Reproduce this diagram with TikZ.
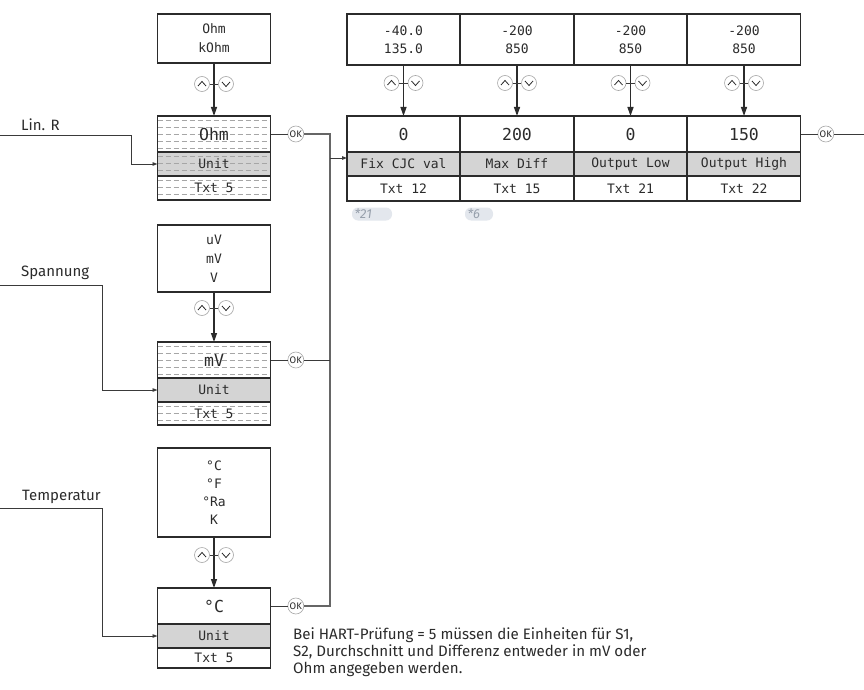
\documentclass[tikz,border=0pt]{standalone}
\usepackage{fontspec}
\setmainfont{Fira Sans}
\newfontfamily\lcdfont{DejaVu Sans Mono}
\usetikzlibrary{positioning,arrows.meta}

\definecolor{frame}{HTML}{2B2B2B}
\definecolor{unitgrey}{HTML}{D4D4D4}
\definecolor{hatch}{HTML}{A6A6A6}
\definecolor{pillbg}{HTML}{E3E7ED}
\definecolor{pilltxt}{HTML}{97A0AC}
\definecolor{wire}{HTML}{3A3A3A}

\tikzset{
  disp/.style={draw=frame, line width=1.4pt, fill=white, minimum width=113pt,
    inner sep=0pt, outer sep=0pt, align=center, text=frame},
  optbox/.style={disp, font=\lcdfont\fontsize{13}{19}\selectfont},
  valrow/.style={disp, minimum height=36pt, font=\lcdfont\fontsize{16.5}{17}\selectfont},
  unitrow/.style={disp, fill=unitgrey, minimum height=24pt, font=\lcdfont\fontsize{13}{14}\selectfont},
  txtrow/.style={disp, minimum height=24pt, font=\lcdfont\fontsize{13}{14}\selectfont},
  hatched/.style={path picture={
    \foreach \k in {4,11,...,46}
      \draw[hatch, line width=0.6pt, dash pattern=on 5pt off 3pt]
        ([yshift=-\k pt]path picture bounding box.north west) --
        ([yshift=-\k pt]path picture bounding box.north east);}},
  keyup/.style={circle, draw=gray!70, fill=white, minimum size=15pt, inner sep=0pt,
    line width=0.6pt, path picture={
      \draw[frame, line width=0.8pt]
        ([xshift=-4pt,yshift=-2pt]path picture bounding box.center) --
        ([yshift=2.5pt]path picture bounding box.center) --
        ([xshift=4pt,yshift=-2pt]path picture bounding box.center);}},
  keydown/.style={circle, draw=gray!70, fill=white, minimum size=15pt, inner sep=0pt,
    line width=0.6pt, path picture={
      \draw[frame, line width=0.8pt]
        ([xshift=-4pt,yshift=2pt]path picture bounding box.center) --
        ([yshift=-2.5pt]path picture bounding box.center) --
        ([xshift=4pt,yshift=2pt]path picture bounding box.center);}},
  okkey/.style={circle, draw=gray!70, fill=white, minimum size=16pt, inner sep=0pt,
    line width=0.6pt, font=\fontsize{9.5}{10}\selectfont, text=frame},
  wire/.style={draw=wire, line width=0.9pt},
  flow/.style={draw=frame, line width=1.3pt, -{Triangle[length=9pt,width=6pt]}},
  feed/.style={wire, -{Triangle[length=5pt,width=3.5pt]}},
  pill/.style={fill=pillbg, rounded corners=6pt, minimum height=13pt, inner sep=0pt,
    text=pilltxt, font=\itshape\fontsize{13}{13}\selectfont},
  lbl/.style={anchor=west, inner sep=0pt, text=frame, font=\fontsize{15}{15}\selectfont},
  note/.style={anchor=north west, inner sep=0pt, align=left, text=frame,
    font=\fontsize{15.1}{17}\selectfont}
}

\begin{document}
\begin{tikzpicture}[x=1pt, y=-1pt]
    \useasboundingbox (0,0) rectangle (864,690);
    \fill[white] (0,0) rectangle (864,690);

    % Lin. R
    \node[optbox, minimum height=49pt] (optR) at (214,38.5) {Ohm\\kOhm};
    \node[valrow, hatched] (valR) at (214,134) {Ohm};
    \node[unitrow, hatched, below=0pt of valR] (unitR) {Unit};
    \node[txtrow, hatched, below=0pt of unitR] (txtR) {Txt 5};
    \draw[flow] (optR) -- (valR);
    \node[keyup] (upR) at (202,84) {};
    \node[keydown] (dnR) at (226,84) {};
    \draw[wire] (upR) -- (dnR);
    \node[okkey, right=17pt of valR] (okR) {OK};
    \draw[wire] (valR) -- (okR);

    % Spannung
    \node[optbox, minimum height=67pt] (optV) at (214,258.5) {uV\\mV\\V};
    \node[valrow, hatched] (valV) at (214,360) {mV};
    \node[unitrow, below=0pt of valV] (unitV) {Unit};
    \node[txtrow, hatched, minimum height=23pt, below=0pt of unitV] (txtV) {Txt 5};
    \draw[flow] (optV) -- (valV);
    \node[keyup] (upV) at (202,308) {};
    \node[keydown] (dnV) at (226,308) {};
    \draw[wire] (upV) -- (dnV);
    \node[okkey, right=17pt of valV] (okV) {OK};
    \draw[wire] (valV) -- (okV);

    % Temperatur
    \node[optbox, minimum height=89pt, font=\lcdfont\fontsize{13}{18.2}\selectfont]
        (optT) at (214,492.5) {°C\\°F\\°Ra\\K};
    \node[valrow] (valT) at (214,606) {°C};
    \node[unitrow, below=0pt of valT] (unitT) {Unit};
    \node[txtrow, minimum height=20pt, below=0pt of unitT] (txtT) {Txt 5};
    \draw[flow] (optT) -- (valT);
    \node[keyup] (upT) at (202,555) {};
    \node[keydown] (dnT) at (226,555) {};
    \draw[wire] (upT) -- (dnT);
    \node[okkey, right=17pt of valT] (okT) {OK};
    \draw[wire] (valT) -- (okT);

    % inputs from the left
    \coordinate (inR) at (0,135);
    \coordinate (inV) at (0,285);
    \coordinate (inT) at (0,508);
    \node[lbl] (lblR) at (21,125) {Lin. R};
    \node[lbl] (lblV) at (21,273) {Spannung};
    \node[lbl] (lblT) at (22,497) {Temperatur};
    \draw[feed] (inR) -| ([xshift=-26pt]unitR.west) -- (unitR.west);
    \draw[feed] (inV) -| ([xshift=-55pt]unitV.west) -- (unitV.west);
    \draw[feed] (inT) -| ([xshift=-55pt]unitT.west) -- (unitT.west);

    % parameter row
    \node[optbox, minimum height=51pt, font=\lcdfont\fontsize{13}{18}\selectfont]
        (optA) at (403.5,39.5) {-40.0\\135.0};
    \node[optbox, minimum height=51pt, font=\lcdfont\fontsize{13}{18}\selectfont]
        (optB) at (517,39.5) {-200\\850};
    \node[optbox, minimum height=51pt, font=\lcdfont\fontsize{13}{18}\selectfont]
        (optC) at (630.5,39.5) {-200\\850};
    \node[optbox, minimum height=51pt, font=\lcdfont\fontsize{13}{18}\selectfont]
        (optD) at (744,39.5) {-200\\850};

    \node[valrow] (valA) at (403.5,134) {0};
    \node[valrow] (valB) at (517,134) {200};
    \node[valrow] (valC) at (630.5,134) {0};
    \node[valrow] (valD) at (744,134) {150};
    \node[unitrow, below=0pt of valA] (unitA) {Fix CJC val};
    \node[unitrow, below=0pt of valB] (unitB) {Max Diff};
    \node[unitrow, below=0pt of valC] (unitC) {Output Low};
    \node[unitrow, below=0pt of valD] (unitD) {Output High};
    \node[txtrow, minimum height=25pt, below=0pt of unitA] (txtA) {Txt 12};
    \node[txtrow, minimum height=25pt, below=0pt of unitB] (txtB) {Txt 15};
    \node[txtrow, minimum height=25pt, below=0pt of unitC] (txtC) {Txt 21};
    \node[txtrow, minimum height=25pt, below=0pt of unitD] (txtD) {Txt 22};

    \draw[flow] (optA) -- (valA);
    \draw[flow] (optB) -- (valB);
    \draw[flow] (optC) -- (valC);
    \draw[flow] (optD) -- (valD);
    \node[keyup] (upA) at (391.5,83) {};
    \node[keydown] (dnA) at (415.5,83) {};
    \node[keyup] (upB) at (505,83) {};
    \node[keydown] (dnB) at (529,83) {};
    \node[keyup] (upC) at (618.5,83) {};
    \node[keydown] (dnC) at (642.5,83) {};
    \node[keyup] (upD) at (732,83) {};
    \node[keydown] (dnD) at (756,83) {};
    \draw[wire] (upA) -- (dnA);
    \draw[wire] (upB) -- (dnB);
    \draw[wire] (upC) -- (dnC);
    \draw[wire] (upD) -- (dnD);

    \node[okkey, right=17pt of valD] (okD) {OK};
    \coordinate (exit) at (864,0);
    \draw[wire] (valD) -- (okD);
    \draw[wire] (okD) -- (okD -| exit);

    % OK bus
    \coordinate (bus) at (330,0);
    \coordinate (busin) at ([yshift=6pt]unitA.west);
    \draw[wire, draw=gray!80!black, line width=1.1pt] (okR) -- (okR -| bus) -- (okT -| bus) -- (okT);
    \draw[wire] (okV) -- (okV -| bus);
    \draw[feed] (busin -| bus) -- (busin);

    % footnote marks
    \node[pill, minimum width=40pt, text width=35pt] (fnA) at (372,214) {*21};
    \node[pill, minimum width=28pt, text width=23pt] (fnB) at (479,214) {*6};

    \node[note] (hint) at (293,628) {Bei HART-Prüfung = 5 müssen die Einheiten für S1,\\
        S2, Durchschnitt und Differenz entweder in mV oder\\
        Ohm angegeben werden.};
\end{tikzpicture}
\end{document}
